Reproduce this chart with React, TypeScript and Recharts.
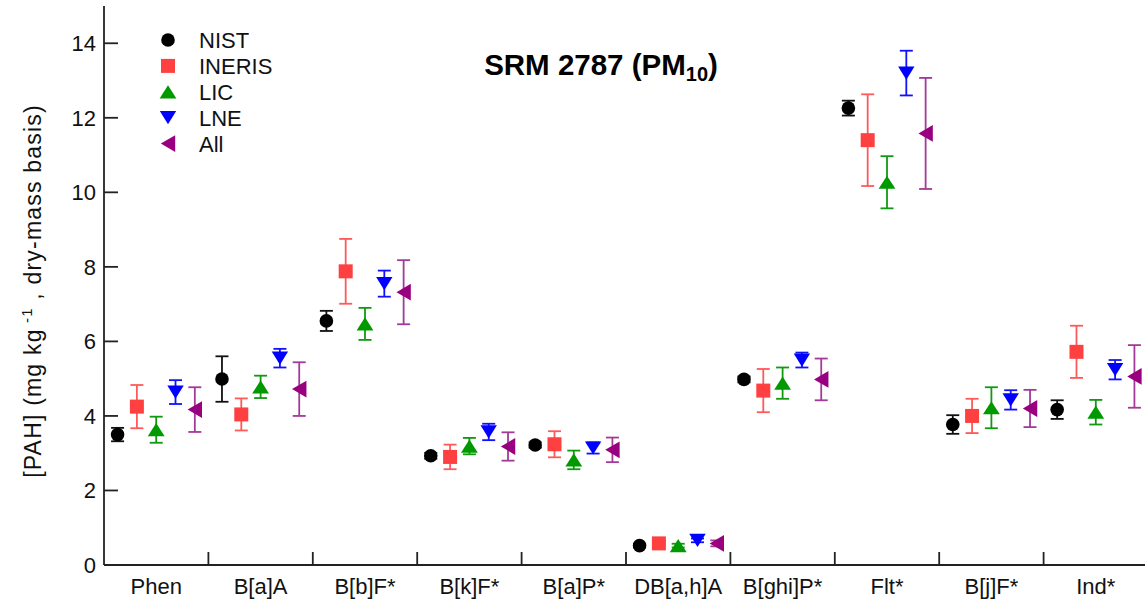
import React from 'react';
import { ScatterChart, Scatter, XAxis, YAxis, ErrorBar, Customized } from 'recharts';

const categories = ['Phen', 'B[a]A', 'B[b]F*', 'B[k]F*', 'B[a]P*', 'DB[a,h]A', 'B[ghi]P*', 'Flt*', 'B[j]F*', 'Ind*'];
const seriesNames = ['NIST', 'INERIS', 'LIC', 'LNE', 'All'];

const nistValues = [3.5, 4.99, 6.55, 2.93, 3.22, 0.52, 4.98, 12.26, 3.77, 4.17];
const nistErrors = [0.18, 0.61, 0.27, 0.08, 0.07, 0.05, 0.08, 0.2, 0.25, 0.25];
const inerisValues = [4.25, 4.04, 7.88, 2.9, 3.24, 0.58, 4.68, 11.4, 4.0, 5.72];
const inerisErrors = [0.58, 0.43, 0.87, 0.33, 0.35, 0.04, 0.58, 1.23, 0.46, 0.7];
const licValues = [3.63, 4.78, 6.47, 3.19, 2.82, 0.52, 4.88, 10.27, 4.22, 4.1];
const licErrors = [0.35, 0.3, 0.43, 0.22, 0.25, 0.05, 0.42, 0.7, 0.55, 0.33];
const lneValues = [4.64, 5.55, 7.55, 3.57, 3.14, 0.66, 5.5, 13.2, 4.43, 5.24];
const lneErrors = [0.32, 0.25, 0.35, 0.22, 0.15, 0.05, 0.2, 0.6, 0.26, 0.26];
const allValues = [4.17, 4.72, 7.32, 3.18, 3.09, 0.58, 4.98, 11.58, 4.2, 5.06];
const allErrors = [0.6, 0.72, 0.86, 0.38, 0.33, 0.08, 0.56, 1.49, 0.5, 0.84];

const yTicks = [0, 2, 4, 6, 8, 10, 12, 14];

const FONT = 'Liberation Sans, Arial, Helvetica, sans-serif';
const AXIS = '#222';

type Kind = 'circle' | 'square' | 'up' | 'down' | 'left';

const seriesStyle: { color: string; errColor: string; kind: Kind }[] = [
  { color: '#000000', errColor: '#111111', kind: 'circle' },
  { color: '#FF4040', errColor: '#FF5a5a', kind: 'square' },
  { color: '#009900', errColor: '#119911', kind: 'up' },
  { color: '#0000FF', errColor: '#1111FF', kind: 'down' },
  { color: '#990080', errColor: '#A33A99', kind: 'left' },
];

const seriesValues = [nistValues, inerisValues, licValues, lneValues, allValues];
const seriesErrors = [nistErrors, inerisErrors, licErrors, lneErrors, allErrors];

const OFFSET = 0.185;

function buildData(s: number) {
  return categories.map((c, i) => ({
    x: i + 0.5 + (s - 2) * OFFSET,
    y: seriesValues[s][i],
    err: seriesErrors[s][i],
  }));
}

function Marker({ kind, cx, cy, color }: { kind: Kind; cx: number; cy: number; color: string }) {
  if (kind === 'circle') return <circle cx={cx} cy={cy} r={6.8} fill={color} />;
  if (kind === 'square') return <rect x={cx - 7} y={cy - 7} width={14} height={14} fill={color} />;
  if (kind === 'up') {
    const w = 8.4, h = 6.6;
    return <polygon points={`${cx - w},${cy + h} ${cx + w},${cy + h} ${cx},${cy - h}`} fill={color} />;
  }
  if (kind === 'down') {
    const w = 8.2, h = 6.6;
    return <polygon points={`${cx - w},${cy - h} ${cx + w},${cy - h} ${cx},${cy + h}`} fill={color} />;
  }
  const w = 7.2, h = 8.4;
  return <polygon points={`${cx + w},${cy - h} ${cx + w},${cy + h} ${cx - w},${cy}`} fill={color} />;
}

const bottomTicks: number[] = [];
for (let i = 0; i < categories.length; i++) {
  if (i > 0) bottomTicks.push(i);
  bottomTicks.push(i + 0.5);
}
const boundaryTicks = categories.slice(1).map((_, i) => i + 1);

const BottomTick = (props: any) => {
  const { x, y, payload } = props;
  const v = payload.value as number;
  if (Number.isInteger(v)) {
    return <line x1={x} x2={x} y1={y} y2={y - 13} stroke={AXIS} strokeWidth={1.8} />;
  }
  return (
    <text x={x} y={y + 29} textAnchor="middle" fontFamily={FONT} fontSize={22} fill="#111">
      {categories[Math.floor(v)]}
    </text>
  );
};

const TopTick = (props: any) => {
  const { x, y } = props;
  return <line x1={x} x2={x} y1={y} y2={y + 13} stroke={AXIS} strokeWidth={1.8} />;
};

const LeftTick = (props: any) => {
  const { x, y, payload } = props;
  return (
    <g>
      {payload.value !== 0 && <line x1={x} x2={x + 14} y1={y} y2={y} stroke={AXIS} strokeWidth={1.8} />}
      <text x={x - 8} y={y} dy="0.36em" textAnchor="end" fontFamily={FONT} fontSize={22} fill="#111">
        {payload.value}
      </text>
    </g>
  );
};

const RightTick = (props: any) => {
  const { x, y } = props;
  return <line x1={x} x2={x - 14} y1={y} y2={y} stroke={AXIS} strokeWidth={1.8} />;
};

const Overlay = () => {
  const legendY0 = 40;
  const legendStep = 25.9;
  return (
    <g>
      <text x={601} y={75} textAnchor="middle" fontFamily={FONT} fontSize={29.5} fontWeight="bold" fill="#000">
        <tspan>SRM 2787 (PM</tspan>
        <tspan fontSize={20} dy={6}>10</tspan>
        <tspan dy={-6}>)</tspan>
      </text>
      <text
        transform="translate(41 291) rotate(-90)"
        x={0}
        y={0}
        textAnchor="middle"
        fontFamily={FONT}
        fontSize={23}
        letterSpacing={1.2}
        fill="#111"
      >
        <tspan>[PAH] (mg kg</tspan>
        <tspan fontSize={15} dy={-9}> -1</tspan>
        <tspan dy={9}> , dry-mass basis)</tspan>
      </text>
      {seriesNames.map((n, i) => {
        const cy = legendY0 + i * legendStep;
        return (
          <g key={n}>
            <Marker kind={seriesStyle[i].kind} cx={168} cy={cy} color={seriesStyle[i].color} />
            <text x={199} y={cy + 8} fontFamily={FONT} fontSize={22} fill="#111">
              {n}
            </text>
          </g>
        );
      })}
    </g>
  );
};

export default function App() {
  return (
    <div style={{ position: 'absolute', left: 0, top: 0, width: 1145, height: 599, overflow: 'hidden', background: '#fff' }}>
      <ScatterChart width={1160} height={599} margin={{ top: 6, right: 12, bottom: 0, left: 0 }}>
        <XAxis
          xAxisId="b"
          type="number"
          dataKey="x"
          domain={[0, 10]}
          ticks={bottomTicks}
          interval={0}
          tickLine={false}
          tickSize={0}
          tickMargin={0}
          height={34}
          stroke={AXIS}
          strokeWidth={1.8}
          tick={<BottomTick />}
          allowDataOverflow
        />
        <XAxis
          xAxisId="t"
          orientation="top"
          type="number"
          domain={[0, 10]}
          ticks={boundaryTicks}
          interval={0}
          tickLine={false}
          tickSize={0}
          tickMargin={0}
          height={0}
          stroke={AXIS}
          strokeWidth={1.8}
          tick={<TopTick />}
          allowDataOverflow
        />
        <YAxis
          yAxisId="l"
          type="number"
          dataKey="y"
          domain={[0, 15]}
          ticks={yTicks}
          interval={0}
          width={104}
          tickLine={false}
          tickSize={0}
          tickMargin={0}
          stroke={AXIS}
          strokeWidth={1.8}
          tick={<LeftTick />}
          allowDataOverflow
        />
        <YAxis
          yAxisId="r"
          orientation="right"
          type="number"
          domain={[0, 15]}
          ticks={yTicks.slice(1)}
          interval={0}
          width={0}
          tickLine={false}
          tickSize={0}
          tickMargin={0}
          stroke={AXIS}
          strokeWidth={1.8}
          tick={<RightTick />}
          allowDataOverflow
        />
        {seriesNames.map((name, s) => (
          <Scatter
            key={name}
            name={name}
            xAxisId="b"
            yAxisId="l"
            data={buildData(s)}
            isAnimationActive={false}
            shape={(p: any) => <Marker kind={seriesStyle[s].kind} cx={p.cx} cy={p.cy} color={seriesStyle[s].color} />}
          >
            <ErrorBar
              dataKey="err"
              direction="y"
              width={6.5}
              stroke={seriesStyle[s].errColor}
              strokeWidth={1.8}
              isAnimationActive={false}
            />
          </Scatter>
        ))}
        <Customized component={Overlay} />
      </ScatterChart>
    </div>
  );
}
